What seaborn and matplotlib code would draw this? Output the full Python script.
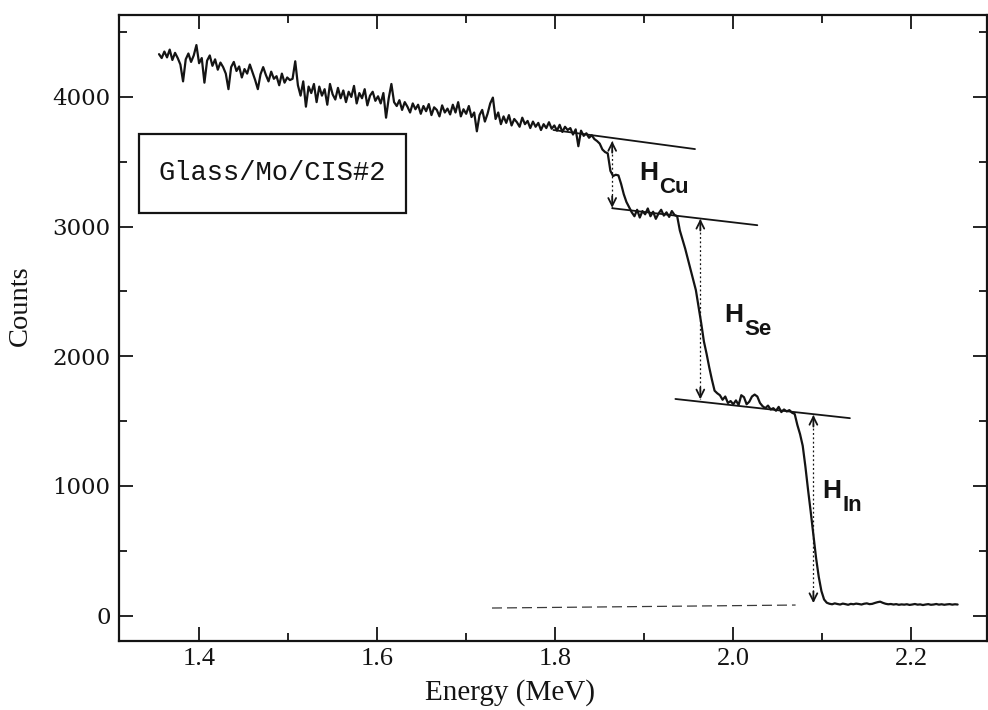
import numpy as np
import pandas as pd
import matplotlib
matplotlib.use("Agg")
import matplotlib.pyplot as plt
import seaborn as sns
from matplotlib.ticker import MultipleLocator
from matplotlib.patches import Rectangle

# ---------------- data ----------------
ENERGY_START = 1.355   # MeV, first channel
ENERGY_STEP = 0.003    # MeV per channel

counts = [
    4330, 4300, 4350, 4305, 4365, 4285, 4340, 4300, 4250, 4120,
    4290, 4335, 4270, 4320, 4400, 4260, 4300, 4110, 4280, 4320,
    4240, 4290, 4210, 4265, 4230, 4180, 4060, 4230, 4270, 4200,
    4235, 4150, 4215, 4180, 4250, 4190, 4130, 4060, 4175, 4230,
    4170, 4120, 4195, 4140, 4160, 4090, 4180, 4110, 4150, 4130,
    4140, 4275, 4090, 4010, 4120, 3925, 4080, 4030, 4100, 3960,
    4080, 4010, 4060, 3940, 4100, 4020, 3980, 4070, 3990, 4050,
    3960, 4040, 4000, 4085, 3950, 4030, 3990, 4060, 3935, 4010,
    4040, 3970, 4005, 3950, 4030, 3840, 3990, 4100, 3960, 3930,
    3975, 3900, 3960, 3925, 3880, 3950, 3905, 3940, 3870, 3930,
    3890, 3945, 3860, 3920, 3900, 3850, 3935, 3880, 3910, 3865,
    3940, 3880, 3960, 3850, 3905, 3870, 3930, 3845, 3880, 3735,
    3860, 3900, 3810, 3870, 3950, 3995, 3830, 3880, 3790, 3850,
    3800, 3860, 3780, 3830, 3805, 3770, 3840, 3790, 3815, 3760,
    3810, 3770, 3800, 3745, 3790, 3760, 3805, 3755, 3780, 3740,
    3785, 3730, 3770, 3745, 3760, 3710, 3750, 3620, 3740, 3700,
    3720, 3685, 3705, 3675, 3660, 3640, 3595, 3575, 3565, 3430,
    3390, 3400, 3395, 3330, 3250, 3190, 3150, 3110, 3080, 3130,
    3070, 3120, 3095, 3140, 3080, 3115, 3060, 3100, 3130, 3085,
    3110, 3075, 3120, 3090, 3080, 2970, 2900, 2830, 2750, 2670,
    2590, 2510, 2385, 2255, 2115, 2020, 1915, 1820, 1735, 1715,
    1700, 1665, 1690, 1640, 1655, 1630, 1660, 1625, 1700, 1685,
    1630, 1650, 1690, 1705, 1690, 1640, 1615, 1600, 1620, 1590,
    1600, 1580, 1610, 1570, 1590, 1575, 1585, 1565, 1555, 1470,
    1400, 1310, 1150, 970, 800, 620, 445, 300, 190, 125,
    100, 92, 88, 95, 90, 86, 93, 89, 84, 91,
    88, 93, 90, 86, 92, 95, 89, 91, 98, 104,
    108, 99, 92, 88, 90, 86, 89, 84, 87, 85,
    88, 83, 86, 90, 85, 87, 82, 86, 89, 84,
    86, 90, 85, 88, 84, 87, 89, 85, 88, 86,
]

# tangent (plateau) lines: (E1, E2), (C1, C2)
line_cu_top_E = [1.798, 1.957]
line_cu_top_C = [3745, 3598]
line_se_top_E = [1.864, 2.027]
line_se_top_C = [3142, 3011]
line_in_top_E = [1.935, 2.131]
line_in_top_C = [1671, 1523]
line_base_E = [1.729, 2.070]
line_base_C = [59, 82]

# step-height arrows: energy, top count, bottom count
arrow_E = [1.864, 1.963, 2.090]
arrow_top = [3660, 3060, 1548]
arrow_bot = [3145, 1668, 97]

# labels
h_labels = ["Cu", "Se", "In"]
h_label_E = [1.894, 1.990, 2.100]
h_label_C = [3359, 2264, 905]

x_ticks = [1.4, 1.6, 1.8, 2.0, 2.2]
y_ticks = [0, 1000, 2000, 3000, 4000]

# ---------------- plot ----------------
sns.set_style("ticks")
plt.rcParams["font.family"] = ["Liberation Serif", "DejaVu Serif"]

ink = "#141414"
fig = plt.figure(figsize=(9.88, 7.10), dpi=100)
ax = fig.add_axes([0.1204, 0.0976, 0.8786, 0.8813])

energy = ENERGY_START + ENERGY_STEP * np.arange(len(counts))
df = pd.DataFrame({"Energy": energy, "Counts": counts})
sns.lineplot(data=df, x="Energy", y="Counts", ax=ax, color=ink, lw=1.6,
             estimator=None, sort=False)

for E, C in [(line_cu_top_E, line_cu_top_C), (line_se_top_E, line_se_top_C),
             (line_in_top_E, line_in_top_C)]:
    ax.plot(E, C, color=ink, lw=1.3)
ax.plot(line_base_E, line_base_C, color="#3a3a3a", lw=0.9, ls=(0, (8, 4)))

for E, t, b in zip(arrow_E, arrow_top, arrow_bot):
    ax.plot([E, E], [t, b], color=ink, lw=0.9, ls=(0, (1.5, 2)))
    ax.annotate("", xy=(E, t), xytext=(E, t - 90),
                arrowprops=dict(arrowstyle="->", color=ink, lw=1.3,
                                mutation_scale=14, shrinkA=0, shrinkB=0))
    ax.annotate("", xy=(E, b), xytext=(E, b + 90),
                arrowprops=dict(arrowstyle="->", color=ink, lw=1.3,
                                mutation_scale=14, shrinkA=0, shrinkB=0))

for lab, E, C in zip(h_labels, h_label_E, h_label_C):
    ax.text(E, C, "H", fontsize=19, fontweight="bold",
            family="Liberation Sans", color=ink, ha="left", va="baseline")
    ax.annotate(lab, xy=(E, C), xytext=(14.5, -9), textcoords="offset points",
                fontsize=16, fontweight="bold", family="Liberation Sans",
                color=ink, ha="left", va="baseline")

# sample box
ax.add_patch(Rectangle((0.023, 0.6836), 0.3076, 0.1262, transform=ax.transAxes,
                       fill=False, lw=1.6, ec=ink))
ax.text(0.177, 0.747, "Glass/Mo/CIS#2", transform=ax.transAxes,
        family="Liberation Mono", fontsize=19.5, color=ink,
        ha="center", va="center")

ax.set_xlim(1.310, 2.285)
ax.set_ylim(-193, 4632)
ax.set_xticks(x_ticks)
ax.set_yticks(y_ticks)
ax.set_xticklabels([f"{v:.1f}" for v in x_ticks])
ax.set_yticklabels([str(v) for v in y_ticks])
ax.xaxis.set_minor_locator(MultipleLocator(0.1))
ax.yaxis.set_minor_locator(MultipleLocator(500))
ax.tick_params(which="both", direction="in", top=True, right=True,
               width=1.3, color=ink, labelcolor=ink)
ax.tick_params(which="major", length=10)
ax.tick_params(which="minor", length=6)
ax.tick_params(axis="x", labelsize=19, pad=5)
ax.tick_params(axis="y", labelsize=16.5, pad=6)
for lab in ax.get_yticklabels():
    lab.set_family("DejaVu Serif")
for sp in ax.spines.values():
    sp.set_linewidth(1.6)
    sp.set_color(ink)

ax.set_xlabel("Energy (MeV)", fontsize=21, color=ink)
ax.set_ylabel("Counts", fontsize=20.5, color=ink)
ax.xaxis.set_label_coords(0.45, -0.061)
ax.yaxis.set_label_coords(-0.099, 0.536)

fig.savefig("out.png", dpi=100)
